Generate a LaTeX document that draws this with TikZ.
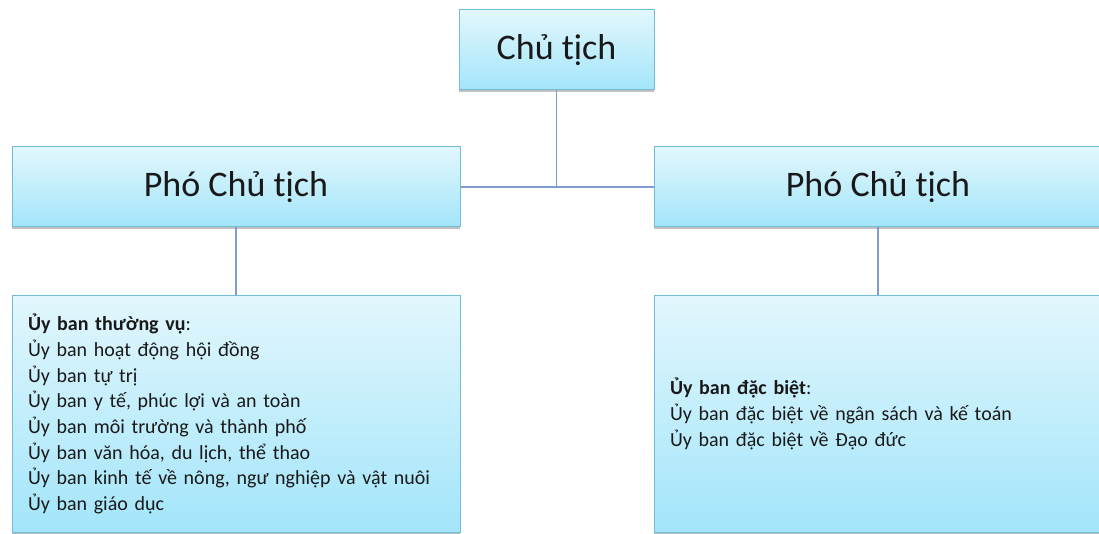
\documentclass[tikz,border=0pt]{standalone}
\usepackage{fontspec}
\setmainfont{Carlito}
\usetikzlibrary{shadows}
\definecolor{boxtop}{HTML}{E2F7FD}
\definecolor{boxbot}{HTML}{A3E5FA}
\definecolor{boxline}{HTML}{72BCD8}
\definecolor{conn}{HTML}{7F9CCF}
\begin{document}
\begin{tikzpicture}[x=1pt,y=-1pt,
  box/.style={draw=boxline, line width=1pt, top color=boxtop, bottom color=boxbot,
    drop shadow={shadow xshift=0pt,shadow yshift=-2.5pt,opacity=0.4,fill=black!60}},
  headbox/.style={box, minimum height=80pt, font=\fontsize{36}{40}\selectfont, text=black!90},
  listbox/.style={box, minimum width=448pt, minimum height=236pt, text width=416pt,
    inner sep=16pt, align=left, font=\fontsize{20}{25.7}\selectfont, text=black!90},
  connline/.style={draw=conn, line width=1.2pt}]
\useasboundingbox (0,0) rectangle (1099,534);
\fill[white] (0,0) rectangle (1099,534);
\node[headbox, minimum width=195pt] (ct) at (556.5,50) {Chủ tịch};
\node[headbox, minimum width=448pt] (p1) at (236,187) {Phó Chủ tịch};
\node[headbox, minimum width=448pt] (p2) at (878,187) {Phó Chủ tịch};
\node[listbox] (l1) at (236,414) {\textbf{Ủy ban thường vụ}:\\
Ủy ban hoạt động hội đồng\\
Ủy ban tự trị\\
Ủy ban y tế, phúc lợi và an toàn\\
Ủy ban môi trường và thành phố\\
Ủy ban văn hóa, du lịch, thể thao\\
Ủy ban kinh tế về nông, ngư nghiệp và vật nuôi\\
Ủy ban giáo dục};
\node[listbox] (l2) at (878,414) {\textbf{Ủy ban đặc biệt}:\\
Ủy ban đặc biệt về ngân sách và kế toán\\
Ủy ban đặc biệt về Đạo đức};
\coordinate (j) at (ct.south |- p1.east);
\draw[connline] (ct.south) -- (j);
\draw[connline] (p1.east) -- (p2.west);
\draw[connline] (p1.south) -- (l1.north);
\draw[connline] (p2.south) -- (l2.north);
\end{tikzpicture}
\end{document}
